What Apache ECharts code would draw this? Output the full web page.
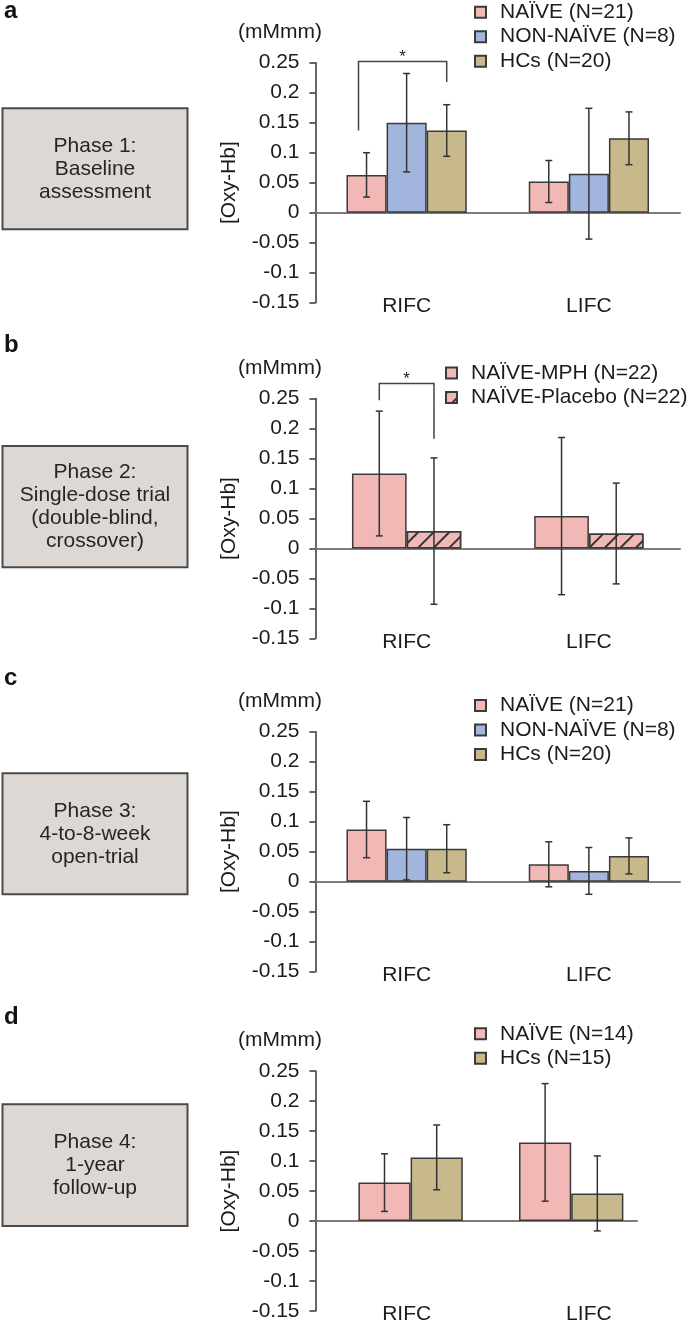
<!DOCTYPE html>
<html><head><meta charset="utf-8">
<script src="https://cdn.jsdelivr.net/npm/echarts@6/dist/echarts.min.js"></script>
<style>html,body{margin:0;padding:0;background:#fff}#c{width:688px;height:1326px}</style>
</head><body><div id="c"></div><script>
// ---------- data ----------
const categories = ['RIFC', 'LIFC'];
const tickLabels = ['-0.15', '-0.1', '-0.05', '0', '0.05', '0.1', '0.15', '0.2', '0.25'];

// Panel a : Phase 1
const aNames = ['NAÏVE (N=21)', 'NON-NAÏVE (N=8)', 'HCs (N=20)'];
const aNaive = [0.063, 0.052];   const aNaiveErr = [0.037, 0.035];
const aNon   = [0.150, 0.065];   const aNonErr   = [0.082, 0.109];
const aHC    = [0.137, 0.124];   const aHCErr    = [0.043, 0.044];
// Panel b : Phase 2
const bNames = ['NAÏVE-MPH (N=22)', 'NAÏVE-Placebo (N=22)'];
const bMPH   = [0.125, 0.054];   const bMPHErr   = [0.104, 0.131];
const bPla   = [0.029, 0.025];   const bPlaErr   = [0.122, 0.084];
// Panel c : Phase 3
const cNames = ['NAÏVE (N=21)', 'NON-NAÏVE (N=8)', 'HCs (N=20)'];
const cNaive = [0.087, 0.029];   const cNaiveErr = [0.047, 0.0375];
const cNon   = [0.055, 0.018];   const cNonErr   = [0.052, 0.039];
const cHC    = [0.055, 0.043];   const cHCErr    = [0.040, 0.030];
// Panel d : Phase 4
const dNames = ['NAÏVE (N=14)', 'HCs (N=15)'];
const dNaive = [0.064, 0.131];   const dNaiveErr = [0.048, 0.098];
const dHC    = [0.106, 0.046];   const dHCErr    = [0.054, 0.0625];
// significance brackets: [top, left end, right end]
const sigA = [0.252, 0.137, 0.218];
const sigB = [0.275, 0.247, 0.183];

const boxTexts = ['Phase 1:\nBaseline\nassessment', 'Phase 2:\nSingle-dose trial\n(double-blind,\ncrossover)',
  'Phase 3:\n4-to-8-week\nopen-trial', 'Phase 4:\n1-year\nfollow-up'];
const panelLetters = ['a', 'b', 'c', 'd'];
const unitLabel = '(mMmm)';
const yName = '[Oxy-Hb]';

// ---------- style ----------
const FONT = '"Liberation Sans", Arial, Helvetica, sans-serif';
const TXT = '#1c1c1c';
const COL = { naive: '#f1b8b5', non: '#a1b5dd', hc: '#c7b98b' };
const EDGE = '#3a3a3a';
const FS = 21;

const grids = [], xAxes = [], yAxes = [], series = [], legends = [], graphics = [];

function addGrid(left, right, top) {
  grids.push({ left: left, right: right, top: top, height: 240, containLabel: false, outerBoundsMode: 'none' });
  return grids.length - 1;
}
function addY(gi, visible) {
  if (!visible) {
    yAxes.push({ gridIndex: gi, type: 'value', min: -0.15, max: 0.25, interval: 0.05, show: false });
  } else {
    yAxes.push({
      gridIndex: gi, type: 'value', min: -0.15, max: 0.25, interval: 0.05,
      axisLine: { show: true, onZero: false, lineStyle: { color: '#333', width: 1.5 } },
      axisTick: { show: true, inside: false, length: 6, lineStyle: { color: '#333', width: 1.5 } },
      axisLabel: { show: true, margin: 16, fontSize: FS, fontFamily: FONT, color: TXT,
        formatter: function (v) { return tickLabels[Math.round((v + 0.15) / 0.05)]; } },
      splitLine: { show: false },
      name: yName, nameLocation: 'middle', nameGap: 76, nameRotate: 90,
      nameTextStyle: { fontSize: FS, fontFamily: FONT, color: TXT, padding: [0, 0, 0, 0] }
    });
  }
  return yAxes.length - 1;
}
function addX(gi, kind) {
  const base = { gridIndex: gi, type: 'category', data: categories, position: 'bottom',
    splitLine: { show: false }, axisTick: { show: false } };
  if (kind === 'zero') {
    base.axisLine = { show: true, onZero: true, lineStyle: { color: '#7d7d7d', width: 2 } };
    base.axisLabel = { show: false };
  } else if (kind === 'label') {
    base.axisLine = { show: false, onZero: false };
    base.axisLabel = { show: true, margin: -7, fontSize: FS, fontFamily: FONT, color: TXT };
  } else {
    base.show = false;
    base.axisLine = { show: false, onZero: false };
  }
  xAxes.push(base);
  return xAxes.length - 1;
}

function errRender(n, idx, gap) {
  return function (params, api) {
    const ci = api.value(0), v = api.value(1), e = api.value(2);
    const bw = api.size([1, 0])[0];
    const w = bw * (1 - gap) / n;
    const cx = api.coord([ci, v])[0] - bw * (1 - gap) / 2 + (idx + 0.5) * w;
    const yt = api.coord([ci, v + e])[1], yb = api.coord([ci, v - e])[1];
    const cap = 3.5, st = { stroke: '#333', lineWidth: 1.5 };
    return { type: 'group', children: [
      { type: 'line', shape: { x1: cx, y1: yt, x2: cx, y2: yb }, style: st },
      { type: 'line', shape: { x1: cx - cap, y1: yt, x2: cx + cap, y2: yt }, style: st },
      { type: 'line', shape: { x1: cx - cap, y1: yb, x2: cx + cap, y2: yb }, style: st }
    ] };
  };
}
function sigRender(n, gap, li, lShift, ri, rShift) {
  return function (params, api) {
    const top = api.value(1), le = api.value(2), re = api.value(3);
    const bw = api.size([1, 0])[0];
    const w = bw * (1 - gap) / n;
    const c0 = api.coord([0, top]);
    const start = c0[0] - bw * (1 - gap) / 2;
    const xl = start + (li + 0.5 + lShift) * w, xr = start + (ri + 0.5 + rShift) * w;
    const yT = c0[1], yL = api.coord([0, le])[1], yR = api.coord([0, re])[1];
    return { type: 'group', children: [
      { type: 'polyline', shape: { points: [[xl, yL], [xl, yT], [xr, yT], [xr, yR]] },
        style: { stroke: '#444', lineWidth: 1.5, fill: null } },
      { type: 'text', x: (xl + xr) / 2, y: yT - 4,
        style: { text: '*', fontSize: 17, fontFamily: FONT, fill: '#222', align: 'center', verticalAlign: 'middle' } }
    ] };
  };
}

function addBars(xi, yi, names, vals, errs, colors, gap, decals) {
  const n = vals.length;
  vals.forEach(function (v, k) {
    const st = { color: colors[k], borderColor: EDGE, borderWidth: 1.5 };
    if (decals && decals[k]) st.decal = decals[k];
    series.push({ type: 'bar', name: names[k], xAxisIndex: xi, yAxisIndex: yi, data: v,
      barGap: '0%', barCategoryGap: (gap * 100) + '%', itemStyle: st, z: 2,
      emphasis: { disabled: true }, silent: true, animation: false });
    series.push({ type: 'custom', xAxisIndex: xi, yAxisIndex: yi, renderItem: errRender(n, k, gap),
      data: categories.map(function (c, i) { return [i, v[i], errs[k][i]]; }),
      encode: { x: 0, y: 1 }, z: 5, clip: false, silent: true, animation: false });
  });
}
function addSig(xi, yi, n, gap, li, lShift, ri, rShift, sig) {
  series.push({ type: 'custom', xAxisIndex: xi, yAxisIndex: yi, renderItem: sigRender(n, gap, li, lShift, ri, rShift),
    data: [[0, sig[0], sig[1], sig[2]]], encode: { x: 0, y: 1 }, z: 6, clip: false, silent: true, animation: false });
}
function addLegend(names, left, top) {
  legends.push({ data: names, orient: 'vertical', left: left, top: top, itemWidth: 11, itemHeight: 11,
    itemGap: 3.5, icon: 'rect', padding: 0, selectedMode: false,
    textStyle: { fontSize: FS, fontFamily: FONT, color: TXT, lineHeight: 20, padding: [0, 0, 0, 9] } });
}

const hatch = { symbol: 'rect', symbolSize: 1, color: '#333', dashArrayX: [1, 0], dashArrayY: [1.4, 8.5], rotation: -Math.PI / 4 };

// ---------- panel a ----------
(function () {
  const g = addGrid(315.5, 8, 62.7);
  const y = addY(g, true); const x = addX(g, 'zero'); addX(g, 'label');
  addBars(x, y, aNames, [aNaive, aNon, aHC], [aNaiveErr, aNonErr, aHCErr], [COL.naive, COL.non, COL.hc], 0.34);
  addSig(x, y, 3, 0.34, 0, -0.2, 2, 0, sigA);
  addLegend(aNames, 474, 1.7);
})();
// ---------- panel b ----------
(function () {
  const g = addGrid(315.5, 8, 398.5);
  const y = addY(g, true); const x = addX(g, 'zero'); addX(g, 'label');
  addBars(x, y, bNames, [bMPH, bPla], [bMPHErr, bPlaErr], [COL.naive, COL.naive], 0.4, [null, hatch]);
  addSig(x, y, 2, 0.4, 0, 0, 1, 0, sigB);
  addLegend(bNames, 445, 362.5);
})();
// ---------- panel c ----------
(function () {
  const g = addGrid(315.5, 8, 731.7);
  const y = addY(g, true); const x = addX(g, 'zero'); addX(g, 'label');
  addBars(x, y, cNames, [cNaive, cNon, cHC], [cNaiveErr, cNonErr, cHCErr], [COL.naive, COL.non, COL.hc], 0.34);
  addLegend(cNames, 474, 695);
})();
// ---------- panel d ----------
(function () {
  const g0 = addGrid(315.5, 51, 1071);
  addY(g0, true); addX(g0, 'zero');
  const g1 = addGrid(330.3, 36.5, 1071);
  const y1 = addY(g1, false); const x1 = addX(g1, 'hidden');
  addBars(x1, y1, dNames, [dNaive, dHC], [dNaiveErr, dHCErr], [COL.naive, COL.hc], 0.35);
  const g2 = addGrid(315.5, 8, 1071);
  addY(g2, false); addX(g2, 'label');
  addLegend(dNames, 474, 1023.3);
})();

// ---------- boxes, letters, units ----------
const boxY = [108.3, 446, 773.3, 1104.3];
const boxH = [121, 121.3, 121, 121.7];
const letterY = [11.3, 345, 678, 1017.5];
const unitY = [32.5, 368.3, 701.7, 1040.7];
for (let i = 0; i < 4; i++) {
  graphics.push({ type: 'rect', x: 2.5, y: boxY[i], shape: { width: 185, height: boxH[i] },
    style: { fill: '#ddd8d3', stroke: '#4a4a4a', lineWidth: 2 }, silent: true });
  graphics.push({ type: 'text', x: 95, y: boxY[i] + boxH[i] / 2,
    style: { text: boxTexts[i], fontSize: FS, fontFamily: FONT, fill: '#262626', align: 'center', verticalAlign: 'middle', lineHeight: 23 }, silent: true });
  graphics.push({ type: 'text', x: 4, y: letterY[i],
    style: { text: panelLetters[i], fontSize: 24, fontWeight: 'bold', fontFamily: FONT, fill: '#111', align: 'left', verticalAlign: 'middle' }, silent: true });
  graphics.push({ type: 'text', x: 280, y: unitY[i],
    style: { text: unitLabel, fontSize: FS, fontFamily: FONT, fill: TXT, align: 'center', verticalAlign: 'middle' }, silent: true });
}

const chart = echarts.init(document.getElementById('c'), null, { renderer: 'canvas' });
chart.setOption({
  animation: false,
  backgroundColor: '#fff',
  grid: grids, xAxis: xAxes, yAxis: yAxes, series: series, legend: legends,
  graphic: { elements: graphics }
});
</script></body></html>
